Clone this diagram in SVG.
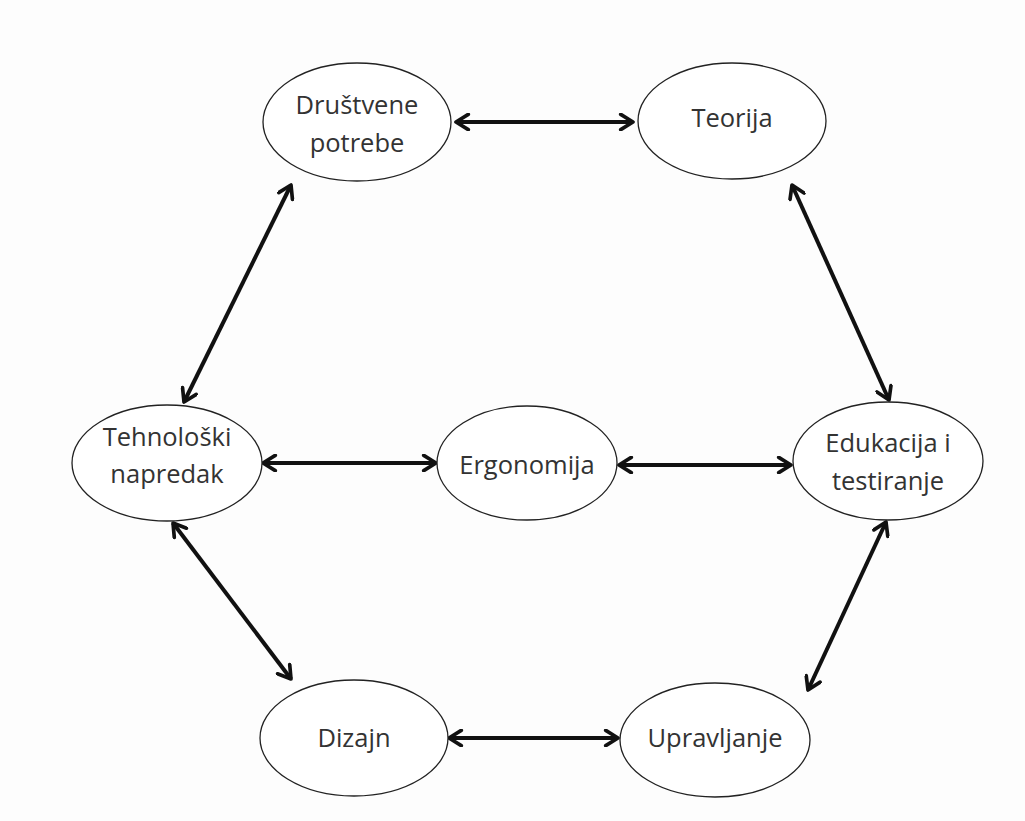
<svg xmlns="http://www.w3.org/2000/svg" width="1025" height="821" viewBox="0 0 1025 821">
<defs>
<style>
.node ellipse{fill:#fff;stroke:#222;stroke-width:1.3}
.node text{font-family:"Open Sans","Liberation Sans",sans-serif;font-size:25.5px;fill:#333;text-anchor:middle}
.conn line{stroke:#111;stroke-width:4;marker-start:url(#h);marker-end:url(#h)}
</style>
<marker id="h" viewBox="0 0 12 12" refX="10" refY="6" markerWidth="4.6" markerHeight="4.6" orient="auto-start-reverse" markerUnits="strokeWidth">
<path d="M2,1 L10,6 L2,11" fill="none" stroke="#111" stroke-width="2.4" stroke-linecap="round" stroke-linejoin="round"/>
</marker>
</defs>
<rect width="1025" height="821" fill="#fdfdfd"/>
<g class="conn">
<line x1="456" y1="122" x2="633" y2="122"/>
<line x1="291" y1="185" x2="184" y2="402"/>
<line x1="792" y1="185" x2="889" y2="400"/>
<line x1="263" y1="463" x2="436" y2="463"/>
<line x1="619" y1="465" x2="791" y2="465"/>
<line x1="173" y1="523" x2="291" y2="679"/>
<line x1="886" y1="522" x2="808" y2="690"/>
<line x1="449" y1="738" x2="618" y2="738"/>
</g>
<g id="drustvene" class="node"><ellipse cx="357" cy="122" rx="94" ry="59"/><text x="357" y="114">Društvene</text><text x="357" y="152">potrebe</text></g>
<g id="teorija" class="node"><ellipse cx="732" cy="121" rx="94" ry="58"/><text x="732" y="127">Teorija</text></g>
<g id="tehnoloski" class="node"><ellipse cx="167" cy="463" rx="95" ry="58"/><text x="167" y="446">Tehnološki</text><text x="167" y="483">napredak</text></g>
<g id="ergonomija" class="node"><ellipse cx="527" cy="463" rx="90" ry="57"/><text x="527" y="474">Ergonomija</text></g>
<g id="edukacija" class="node"><ellipse cx="888" cy="461" rx="95" ry="59"/><text x="888" y="452">Edukacija i</text><text x="888" y="490">testiranje</text></g>
<g id="dizajn" class="node"><ellipse cx="354" cy="738" rx="94" ry="58"/><text x="354" y="747">Dizajn</text></g>
<g id="upravljanje" class="node"><ellipse cx="715" cy="740" rx="95" ry="57"/><text x="715" y="747">Upravljanje</text></g>
</svg>
